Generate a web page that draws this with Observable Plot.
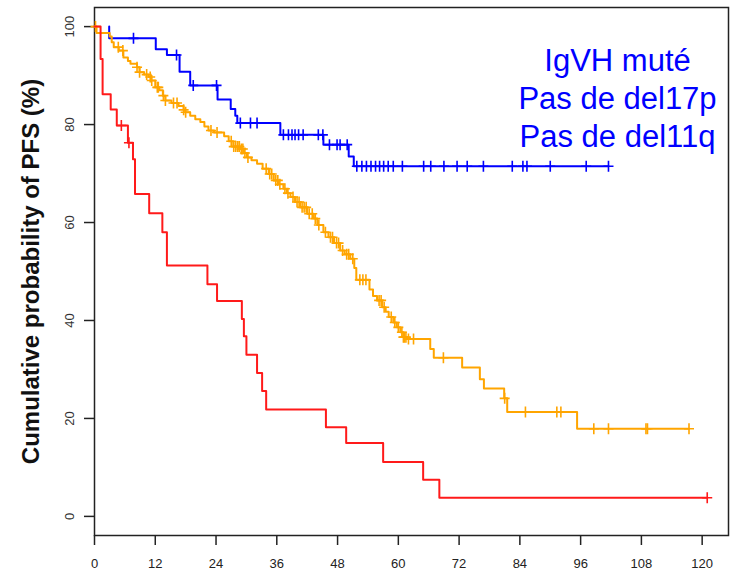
<!DOCTYPE html>
<html>
<head>
<meta charset="utf-8">
<script src="https://cdn.jsdelivr.net/npm/d3@7"></script>
<script src="https://cdn.jsdelivr.net/npm/@observablehq/plot@0.6"></script>
<style>
  html, body { margin: 0; padding: 0; background: #fff; }
  #chart { width: 730px; height: 570px; }
</style>
</head>
<body>
<div id="chart"></div>
<script>
// Kaplan–Meier progression-free survival, time in months
const xTicks = [0, 12, 24, 36, 48, 60, 72, 84, 96, 108, 120];
const yTicks = [0, 20, 40, 60, 80, 100];
const yTitle = "Cumulative probability of PFS (%)";
const legendLines = ["IgVH muté", "Pas de del17p", "Pas de del11q"];

// Each step: [month of event, survival % just after it]
const blueStart = [2.9, 100];
const blueSteps = [
  [2.9, 97.6], [12.1, 95.4], [14.3, 94.2], [16.8, 90.8], [18.9, 88.0],
  [24.3, 85.1], [26.9, 83.2], [27.8, 81.8], [28.2, 80.3], [36.7, 77.9],
  [45.2, 75.9], [50.2, 73.5], [51.2, 71.5]
];
const blueEnd = 101.5;
const blueCensored = [
  7.7, 16.2, 19.5, 24.1, 28.8, 30.8, 32.1, 37.3, 38.3, 39.0, 39.6, 40.3, 41.2,
  44.2, 45.1, 46.4, 47.9, 48.5, 49.9, 51.8, 52.8, 53.7, 54.6, 55.5, 56.3, 57.1,
  58.0, 59.0, 60.8, 65.0, 66.4, 69.0, 71.6, 73.6, 76.8, 82.5, 84.6, 85.4, 90.0,
  97.1, 101.5
];

const orangeStart = [0, 100];
const orangeSteps = [
  [0.4, 98.7], [3.0, 98.0], [3.4, 96.8], [3.8, 95.8], [4.8, 95.1], [5.7, 93.7],
  [6.6, 93.0], [7.1, 92.4], [8.4, 91.7], [8.9, 90.7], [9.8, 90.2], [10.7, 89.7],
  [11.2, 89.0], [12.0, 87.6], [12.8, 87.0], [13.5, 85.9], [14.0, 84.9], [15.2, 84.4],
  [16.6, 83.8], [17.6, 83.0], [17.9, 82.5], [18.9, 81.8], [19.9, 81.1], [20.9, 80.5],
  [21.7, 79.6], [22.5, 78.8], [23.6, 78.4], [25.6, 77.6], [26.5, 76.6], [27.4, 75.5],
  [28.8, 75.0], [29.5, 74.2], [30.1, 73.3], [31.0, 72.7], [32.1, 72.0], [33.2, 71.0],
  [34.4, 69.9], [35.4, 68.6], [36.3, 67.8], [37.3, 66.9], [38.0, 66.0], [38.7, 65.2],
  [39.6, 64.2], [40.6, 63.1], [42.0, 61.8], [43.3, 60.8], [44.0, 59.5], [45.2, 58.0],
  [46.2, 57.0], [47.3, 55.8], [48.5, 54.3], [49.4, 53.5], [50.5, 52.6], [51.3, 50.7],
  [51.7, 48.3], [54.3, 46.3], [55.0, 45.0], [55.8, 44.1], [56.8, 42.7], [57.5, 41.8],
  [58.1, 40.7], [59.0, 39.6], [59.7, 38.6], [60.4, 37.6], [61.0, 36.6], [61.6, 36.2],
  [66.3, 34.2], [67.0, 32.4], [72.6, 30.4], [76.1, 28.0], [76.9, 26.1], [80.9, 24.1],
  [81.5, 21.3], [95.3, 17.9]
];
const orangeEnd = 117.4;
const orangeCensored = [
  0.2, 4.7, 5.6, 8.4, 8.9, 10.3, 11.0, 11.3, 12.4, 12.6, 13.6, 14.0, 15.6, 16.3,
  17.6, 18.0, 23.0, 24.2, 27.0, 27.5, 27.9, 28.3, 28.6, 29.0, 29.3, 29.7, 30.3,
  33.9, 34.6, 35.0, 35.8, 36.2, 36.6, 37.6, 38.2, 39.2, 40.0, 40.4, 41.0, 41.4,
  41.8, 42.4, 43.0, 43.6, 44.3, 45.6, 46.6, 47.0, 47.8, 48.2, 49.0, 49.8, 50.2,
  51.0, 52.4, 53.0, 53.6, 56.2, 56.6, 57.2, 58.6, 59.3, 60.0, 60.7, 61.0, 61.2,
  61.5, 62.0, 63.0, 68.9, 81.0, 85.1, 91.3, 92.1, 98.6, 101.5, 108.9, 109.2, 117.4
];

const redStart = [0, 100];
const redSteps = [
  [1.2, 93.4], [1.6, 86.2], [3.2, 83.1], [4.4, 79.8], [6.6, 76.3], [7.6, 72.9],
  [8.0, 65.8], [10.8, 61.9], [13.4, 58.0], [14.3, 51.2], [22.3, 47.4], [24.2, 44.0],
  [29.1, 40.3], [29.5, 36.8], [30.0, 33.0], [32.1, 29.3], [33.1, 25.6], [33.9, 21.8],
  [45.7, 18.2], [49.7, 15.0], [57.0, 11.1], [64.9, 7.5], [68.1, 3.8]
];
const redEnd = 121.0;
const redCensored = [5.3, 6.8, 121.0];

// Assemble a step path and the censor marks for one group
function group(name, color, start, steps, end, censored) {
  const path = [{t: start[0], s: start[1]}, ...steps.map(([t, s]) => ({t, s}))];
  path.push({t: end, s: steps[steps.length - 1][1]});
  const level = (t) => {
    let s = start[1];
    for (const [ts, v] of steps) if (ts <= t) s = v;
    return s;
  };
  const marks = censored.map((t) => ({t, s: level(t)}));
  return {name, color, path, marks};
}

const groups = [
  group("blue", "#0000ff", blueStart, blueSteps, blueEnd, blueCensored),
  group("orange", "#ffa500", orangeStart, orangeSteps, orangeEnd, orangeCensored),
  group("red", "#ff1a1a", redStart, redSteps, redEnd, redCensored)
];

// "+" censor symbol drawn as two strokes
const plus = {
  draw(ctx, size) {
    const r = Math.sqrt(size / Math.PI);
    ctx.moveTo(-r, 0); ctx.lineTo(r, 0);
    ctx.moveTo(0, -r * 1.1); ctx.lineTo(0, r * 1.1);
  }
};

const curveMarks = groups.flatMap((g) => [
  Plot.line(g.path, {x: "t", y: "s", curve: "step-after", stroke: g.color, strokeWidth: 2}),
  Plot.dot(g.marks, {x: "t", y: "s", r: 5, symbol: plus, stroke: g.color, strokeWidth: 1.6, fill: "none"})
]);

const chart = Plot.plot({
  width: 730,
  height: 570,
  marginLeft: 94,
  marginRight: 2,
  marginTop: 7,
  marginBottom: 35,
  x: {domain: [0, 125.2]},
  y: {domain: [-3.9, 103.9]},
  style: {fontFamily: "'Liberation Sans', Arial, sans-serif", background: "#fff", color: "#222"},
  marks: [
    Plot.frame({stroke: "#222", strokeWidth: 1.5}),
    Plot.axisX({ticks: xTicks, tickSize: 10, tickPadding: 13, fontSize: 13, label: null, strokeWidth: 1.5}),
    Plot.axisY({ticks: yTicks, tickSize: 10, tickFormat: () => "", label: null, strokeWidth: 1.5}),
    Plot.text(yTicks, {
      y: (d) => d, text: (d) => String(d), frameAnchor: "left", textAnchor: "middle",
      dx: -25, rotate: -90, fontSize: 13, fill: "#333"
    }),
    Plot.text([yTitle], {
      text: (d) => d, frameAnchor: "left", textAnchor: "middle",
      dx: -63, rotate: -90, fontSize: 24, fontWeight: "bold", fill: "#111"
    }),
    ...curveMarks,
    Plot.text([legendLines.join("\n")], {
      text: (d) => d, frameAnchor: "top-right", dx: -111, dy: 36, lineAnchor: "top",
      textAnchor: "middle", fontSize: 31, lineHeight: 1.23, fill: "#0000ff"
    })
  ]
});

document.getElementById("chart").appendChild(chart);
</script>
</body>
</html>
